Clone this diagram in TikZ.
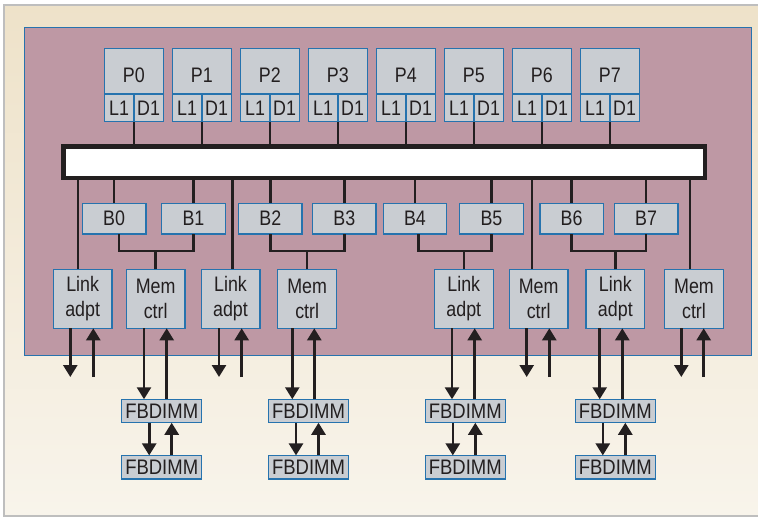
\documentclass[tikz,border=0pt]{standalone}
\usepackage{fontspec}
\setmainfont[FakeStretch=0.85]{Liberation Sans}
\newfontfamily\fbfont[FakeStretch=0.88]{Liberation Sans}
\usetikzlibrary{arrows.meta}
\definecolor{beigetop}{RGB}{238,226,201}
\definecolor{beigebot}{RGB}{248,244,235}
\definecolor{framegray}{RGB}{190,190,190}
\definecolor{chip}{RGB}{190,152,164}
\definecolor{boxblue}{RGB}{38,115,174}
\definecolor{boxgray}{RGB}{201,205,210}
\definecolor{ink}{RGB}{35,31,32}
\tikzset{
  box/.style={draw=boxblue, line width=1.3pt, fill=boxgray, inner sep=0pt, outer sep=0pt,
    text=ink, font=\fontsize{21}{24.5}\selectfont, align=center},
  unit/.style={box, minimum width=58.7pt, minimum height=59pt},
  bbox/.style={box, minimum width=63.5pt, minimum height=30.7pt},
  fbbox/.style={box, minimum width=80pt, minimum height=23.5pt, font=\fbfont\fontsize{21}{22}\selectfont},
  conn/.style={line width=2.6pt, draw=ink},
  arr/.style={conn, -{Triangle[width=14pt 0 0, length=12pt 0 0]}}
}
\begin{document}
\begin{tikzpicture}[x=1pt,y=-1pt]
\useasboundingbox (0,0) rectangle (758,517);
% background
\shade[top color=beigetop, bottom color=beigebot] (4,5) rectangle (764,515.7);
\draw[framegray, line width=1.8pt] (764,5) -- (4,5) -- (4,515.7) -- (764,515.7);
% chip area
\draw[boxblue, line width=1pt, fill=chip] (24,27) rectangle (751,355.7);

% bus
\node[draw=ink, line width=4.5pt, fill=white, minimum width=641.8pt, minimum height=31.2pt,
      inner sep=0pt, outer sep=0pt] (bus) at (384.15,162.15) {};

% processors
\foreach \i in {0,...,7}{
  \pgfmathsetmacro\lx{104.3+68*\i}
  \node[box, minimum width=59pt, minimum height=45.7pt, text height=22.3pt, text depth=0pt]
     (P\i) at (\lx+29.5,71.15) {P\i};
  \node[box, minimum width=29.7pt, minimum height=27.7pt] (L\i) at (\lx+14.85,107.85) {L1};
  \node[box, minimum width=29.3pt, minimum height=27.7pt] (D\i) at (\lx+44.35,107.85) {D1};
  \draw[conn] (L\i.south east) -- (L\i.south east |- bus.north);
}

% banks
\node[bbox] (B0) at (114.15,218.65) {B0};
\node[bbox] (B1) at (193.5,218.65) {B1};
\node[bbox] (B2) at (270.35,218.65) {B2};
\node[bbox] (B3) at (344.35,218.65) {B3};
\node[bbox] (B4) at (415,218.65) {B4};
\node[bbox] (B5) at (491.5,218.65) {B5};
\node[bbox] (B6) at (571.65,218.65) {B6};
\node[bbox] (B7) at (646.15,218.65) {B7};

% link adapters and memory controllers
\node[unit] (link0) at (82.65,298.8) {Link\\adpt};
\node[unit] (mc0) at (155.65,298.8) {Mem\\ctrl};
\node[unit] (link1) at (230.5,298.8) {Link\\adpt};
\node[unit] (mc1) at (307.15,298.8) {Mem\\ctrl};
\node[unit] (link2) at (463.8,298.8) {Link\\adpt};
\node[unit] (mc2) at (538.65,298.8) {Mem\\ctrl};
\node[unit] (link3) at (615.35,298.8) {Link\\adpt};
\node[unit] (mc3) at (694,298.8) {Mem\\ctrl};

% FBDIMMs
\node[fbbox] (fb0a) at (161.7,411) {FBDIMM};
\node[fbbox] (fb0b) at (161.7,467.15) {FBDIMM};
\node[fbbox] (fb1a) at (308.5,411) {FBDIMM};
\node[fbbox] (fb1b) at (308.5,467.15) {FBDIMM};
\node[fbbox] (fb2a) at (465.3,411) {FBDIMM};
\node[fbbox] (fb2b) at (465.3,467.15) {FBDIMM};
\node[fbbox] (fb3a) at (615.3,411) {FBDIMM};
\node[fbbox] (fb3b) at (615.3,467.15) {FBDIMM};

% bus to lower units
\draw[conn] (78,0 |- bus.south) -- (78,0 |- link0.north);
\draw[conn] (232.7,0 |- bus.south) -- (232.7,0 |- link1.north);
\draw[conn] (532,0 |- bus.south) -- (532,0 |- mc2.north);
\draw[conn] (690,0 |- bus.south) -- (690,0 |- mc3.north);
% bus to banks
\foreach \b in {0,...,7}{
  \draw[conn] (B\b.north |- bus.south) -- (B\b.north);
}
% bank pairs to controllers
\draw[conn] ([xshift=4.85pt]B0.south) -- ++(0,17) -| (B1.south);
\draw[conn] (mc0.north) -- ++(0,-18);
\draw[conn] (B2.south) -- ++(0,17) -| (B3.south);
\draw[conn] (mc1.north) -- ++(0,-18);
\draw[conn] ([xshift=3.3pt]B4.south) -- ++(0,17) -| (B5.south);
\draw[conn] (link2.north) -- ++(0,-18);
\draw[conn] (B6.south) -- ++(0,17) -| (B7.south);
\draw[conn] (link3.north) -- ++(0,-18);

% off-chip arrows
\coordinate (offy) at (0,377);
\draw[arr] (70.3,0 |- link0.south) -- (70.3,0 |- offy);
\draw[arr] (93.3,0 |- offy) -- (93.3,0 |- link0.south);
\draw[arr] (219,0 |- link1.south) -- (219,0 |- offy);
\draw[arr] (241.7,0 |- offy) -- (241.7,0 |- link1.south);
\draw[arr] (526.7,0 |- mc2.south) -- (526.7,0 |- offy);
\draw[arr] (549.3,0 |- offy) -- (549.3,0 |- mc2.south);
\draw[arr] (681.3,0 |- mc3.south) -- (681.3,0 |- offy);
\draw[arr] (703.7,0 |- offy) -- (703.7,0 |- mc3.south);

% controllers to FBDIMMs
\draw[arr] (144,0 |- mc0.south) -- (144,0 |- fb0a.north);
\draw[arr] (166.7,0 |- fb0a.north) -- (166.7,0 |- mc0.south);
\draw[arr] (292.3,0 |- mc1.south) -- (292.3,0 |- fb1a.north);
\draw[arr] (314.3,0 |- fb1a.north) -- (314.3,0 |- mc1.south);
\draw[arr] (452,0 |- link2.south) -- (452,0 |- fb2a.north);
\draw[arr] (474.7,0 |- fb2a.north) -- (474.7,0 |- link2.south);
\draw[arr] (599.7,0 |- link3.south) -- (599.7,0 |- fb3a.north);
\draw[arr] (622.3,0 |- fb3a.north) -- (622.3,0 |- link3.south);

% FBDIMM chains
\foreach \f in {0,...,3}{
  \draw[arr] ([xshift=-12.5pt]fb\f a.south) -- ([xshift=-12.5pt]fb\f b.north);
  \draw[arr] ([xshift=10pt]fb\f b.north) -- ([xshift=10pt]fb\f a.south);
}
\end{tikzpicture}
\end{document}
